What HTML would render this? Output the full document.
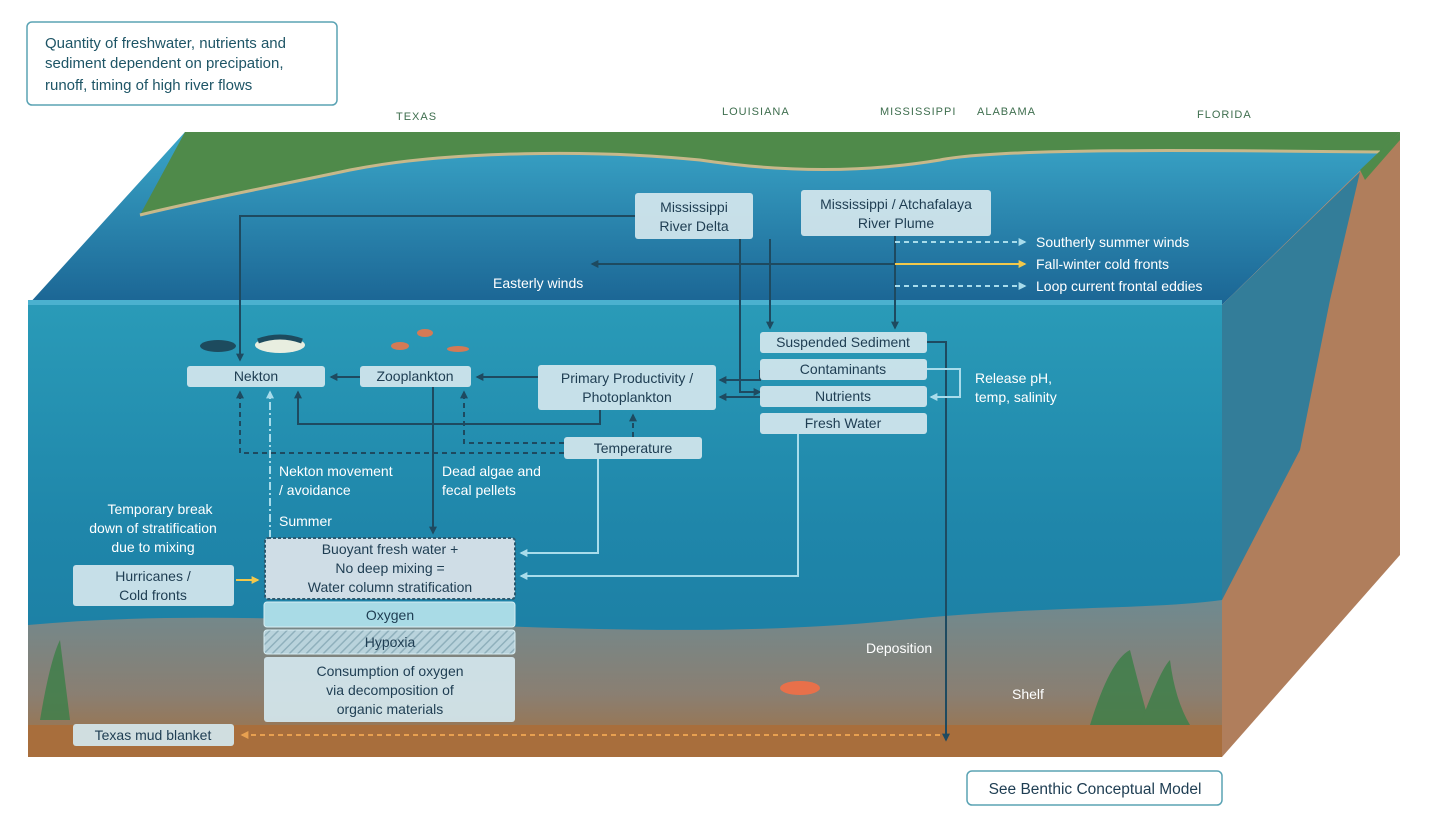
<!DOCTYPE html>
<html><head><meta charset="utf-8"><style>
body{margin:0;background:#fff;width:1432px;height:821px;overflow:hidden;font-family:"Liberation Sans",sans-serif}
svg text{font-family:"Liberation Sans",sans-serif}
</style></head><body>
<svg width="1432" height="821" viewBox="0 0 1432 821" xmlns="http://www.w3.org/2000/svg">
<defs>
<linearGradient id="wat" x1="0" y1="0" x2="0" y2="1">
<stop offset="0" stop-color="#2a9bb8"/><stop offset="0.5" stop-color="#1f86aa"/><stop offset="1" stop-color="#1a7aa0"/></linearGradient>
<linearGradient id="surf" x1="0" y1="0" x2="0" y2="1">
<stop offset="0" stop-color="#3aa6c8"/><stop offset="1" stop-color="#1b6594"/></linearGradient>
<linearGradient id="floor" x1="0" y1="0" x2="0" y2="1">
<stop offset="0" stop-color="#6f8a90"/><stop offset="0.6" stop-color="#8a7f72"/><stop offset="1" stop-color="#a2703f"/></linearGradient>
<pattern id="hatch" width="6" height="6" patternUnits="userSpaceOnUse" patternTransform="rotate(45)">
<rect width="6" height="6" fill="#b9d3dc"/><line x1="0" y1="0" x2="0" y2="6" stroke="#8fb0bc" stroke-width="3"/></pattern>
<marker id="a" viewBox="0 0 10 10" refX="8" refY="5" markerWidth="4" markerHeight="4" orient="auto"><path d="M0 0L10 5L0 10z" fill="#1e4a60"/></marker>
<marker id="al" viewBox="0 0 10 10" refX="8" refY="5" markerWidth="4" markerHeight="4" orient="auto"><path d="M0 0L10 5L0 10z" fill="#a8dceb"/></marker>
<marker id="ay" viewBox="0 0 10 10" refX="8" refY="5" markerWidth="4" markerHeight="4" orient="auto"><path d="M0 0L10 5L0 10z" fill="#f2c84b"/></marker>
<marker id="ao" viewBox="0 0 10 10" refX="8" refY="5" markerWidth="4" markerHeight="4" orient="auto"><path d="M0 0L10 5L0 10z" fill="#e8a050"/></marker>
</defs>
<polygon points="185,132 1400,132 1222,305 28,305" fill="url(#surf)"/>
<path d="M185,132 L1400,132 L1380,152 C1200,150 1000,148 940,160 C880,170 800,175 700,160 C600,150 450,150 350,170 C280,185 200,200 140,215 Z" fill="#4f8a4a"/>
<path d="M140,215 C200,200 280,185 350,170 C450,150 600,150 700,160 C800,175 880,170 940,160 C1000,148 1200,150 1380,152" fill="none" stroke="#c7b88a" stroke-width="3"/>
<polygon points="1222,305 1400,132 1400,555 1222,757" fill="#b07e5c"/>
<polygon points="1360,170 1400,132 1400,140 1365,180" fill="#4f8a4a"/>
<polygon points="1222,305 1360,172 1330,300 1300,450 1222,600" fill="#1d7ca3" opacity="0.85"/>
<rect x="28" y="300" width="1194" height="457" fill="url(#wat)"/>
<path d="M28,300 L1222,300 L1222,305 L28,305Z" fill="#4bb1cf"/>
<path d="M28,625 C300,600 600,650 900,620 C1050,605 1150,610 1222,600 L1222,757 L28,757Z" fill="url(#floor)"/>
<rect x="28" y="725" width="1194" height="32" fill="#a86e3c"/>
<rect x="27" y="22" width="310" height="83" rx="5" fill="#fff" stroke="#5aa3b4" stroke-width="1.5"/>
<text font-size="15" fill="#1e5566"><tspan x="45" y="48">Quantity of freshwater, nutrients and</tspan><tspan x="45" y="68">sediment dependent on precipation,</tspan><tspan x="45" y="90">runoff, timing of high river flows</tspan></text>
<g font-size="11" fill="#3e6e4e" letter-spacing="1"><text x="396" y="120">TEXAS</text><text x="722" y="115">LOUISIANA</text><text x="880" y="115">MISSISSIPPI</text><text x="977" y="115">ALABAMA</text><text x="1197" y="118">FLORIDA</text></g>
<g stroke="#1e4a60" stroke-width="2" fill="none">
<path d="M635,216 H240 V360" marker-end="url(#a)"/>
<path d="M740,239 V392 H760" marker-end="url(#a)"/>
<path d="M770,239 V328" marker-end="url(#a)"/>
<path d="M895,236 V328" marker-end="url(#a)"/>
<path d="M895,264 H592" marker-end="url(#a)"/>
<path d="M760,397 H720" marker-end="url(#a)"/>
<path d="M760,370 V380 H720" marker-end="url(#a)"/>
<path d="M538,377 H477" marker-end="url(#a)"/>
<path d="M360,377 H331" marker-end="url(#a)"/>
<path d="M600,410 V424 H298 V392" marker-end="url(#a)"/>
<path d="M433,387 V533" marker-end="url(#a)"/>
<path d="M927,342 H946 V740" marker-end="url(#a)"/>
</g>
<g stroke="#1e4a60" stroke-width="2" fill="none" stroke-dasharray="5,4">
<path d="M564,453 H240 V392" marker-end="url(#a)"/>
<path d="M564,443 H464 V392" marker-end="url(#a)"/>
<path d="M633,437 V415" marker-end="url(#a)"/>
</g>
<g stroke="#a8dceb" stroke-width="2" fill="none">
<path d="M895,242 H1025" stroke-dasharray="5,4" marker-end="url(#al)"/>
<path d="M895,286 H1025" stroke-dasharray="5,4" marker-end="url(#al)"/>
<path d="M927,369 H960 V397 H931" marker-end="url(#al)"/>
<path d="M598,459 V553 H521" marker-end="url(#al)"/>
<path d="M798,434 V576 H521" marker-end="url(#al)"/>
<path d="M270,538 V392" stroke-dasharray="8,3,2,3" marker-end="url(#al)"/>
</g>
<path d="M895,264 H1025" stroke="#f2c84b" stroke-width="2" marker-end="url(#ay)"/>
<path d="M236,580 H258" stroke="#f2c84b" stroke-width="2" marker-end="url(#ay)"/>
<path d="M940,735 H242" stroke="#e8a050" stroke-width="2" stroke-dasharray="5,4" marker-end="url(#ao)"/>
<g fill="#d3e6ed" fill-opacity="0.93">
<rect x="635" y="193" width="118" height="46" rx="3"/>
<rect x="801" y="190" width="190" height="46" rx="3"/>
<rect x="760" y="332" width="167" height="21" rx="3"/>
<rect x="760" y="359" width="167" height="21" rx="3"/>
<rect x="760" y="386" width="167" height="21" rx="3"/>
<rect x="760" y="413" width="167" height="21" rx="3"/>
<rect x="187" y="366" width="138" height="21" rx="3"/>
<rect x="360" y="366" width="111" height="21" rx="3"/>
<rect x="538" y="365" width="178" height="45" rx="3"/>
<rect x="564" y="437" width="138" height="22" rx="3"/>
<rect x="73" y="565" width="161" height="41" rx="3"/>
<rect x="73" y="724" width="161" height="22" rx="3"/>
<rect x="264" y="657" width="251" height="65" rx="3"/>
</g>
<rect x="265" y="538" width="250" height="61" rx="3" fill="#cfdde6" stroke="#2c5a70" stroke-width="2" stroke-dasharray="3,2"/>
<rect x="264" y="602" width="251" height="25" rx="3" fill="#a9dbe6" stroke="#d7eef3"/>
<rect x="264" y="630" width="251" height="24" rx="3" fill="url(#hatch)" stroke="#d7eef3"/>
<rect x="967" y="771" width="255" height="34" rx="5" fill="#fff" stroke="#5aa3b4" stroke-width="1.5"/>
<g font-size="14" fill="#1e3d52" text-anchor="middle">
<text x="694" y="212">Mississippi</text><text x="694" y="231">River Delta</text>
<text x="896" y="209">Mississippi / Atchafalaya</text><text x="896" y="228">River Plume</text>
<text x="843" y="347">Suspended Sediment</text>
<text x="843" y="374">Contaminants</text>
<text x="843" y="401">Nutrients</text>
<text x="843" y="428">Fresh Water</text>
<text x="256" y="381">Nekton</text>
<text x="415" y="381">Zooplankton</text>
<text x="627" y="383">Primary Productivity /</text><text x="627" y="402">Photoplankton</text>
<text x="633" y="453">Temperature</text>
<text x="153" y="581">Hurricanes /</text><text x="153" y="600">Cold fronts</text>
<text x="153" y="740">Texas mud blanket</text>
<text x="390" y="554">Buoyant fresh water +</text><text x="390" y="573">No deep mixing =</text><text x="390" y="592">Water column stratification</text>
<text x="390" y="620">Oxygen</text>
<text x="390" y="647">Hypoxia</text>
<text x="390" y="676">Consumption of oxygen</text><text x="390" y="695">via decomposition of</text><text x="390" y="714">organic materials</text>
<text x="1095" y="794" font-size="15.5">See Benthic Conceptual Model</text>
</g>
<g font-size="14" fill="#fff">
<text x="1036" y="247">Southerly summer winds</text>
<text x="1036" y="269">Fall-winter cold fronts</text>
<text x="1036" y="291">Loop current frontal eddies</text>
<text x="493" y="288">Easterly winds</text>
<text x="975" y="383">Release pH,</text><text x="975" y="402">temp, salinity</text>
<text x="279" y="476">Nekton movement</text><text x="279" y="495">/ avoidance</text>
<text x="279" y="526">Summer</text>
<text x="442" y="476">Dead algae and</text><text x="442" y="495">fecal pellets</text>
<text x="866" y="653">Deposition</text>
<text x="1012" y="699">Shelf</text>
<g text-anchor="middle"><text x="160" y="514">Temporary break</text><text x="153" y="533">down of stratification</text><text x="153" y="552">due to mixing</text></g>
</g>
<ellipse cx="218" cy="346" rx="18" ry="6" fill="#1d4b5e"/>
<ellipse cx="280" cy="345" rx="25" ry="8" fill="#e8eee0"/><path d="M258,341 Q280,333 302,341" stroke="#1d4b5e" stroke-width="5" fill="none"/>
<ellipse cx="800" cy="688" rx="20" ry="7" fill="#e8704a"/>
<g fill="#d47a55"><ellipse cx="400" cy="346" rx="9" ry="4"/><ellipse cx="425" cy="333" rx="8" ry="4"/><ellipse cx="458" cy="349" rx="11" ry="3"/></g>
<g fill="#3f7f4a" opacity="0.85"><path d="M40,720 Q50,660 60,640 Q65,680 70,720Z"/><path d="M1090,725 Q1110,660 1130,650 Q1140,690 1150,725Z"/><path d="M1140,725 Q1160,670 1170,660 Q1175,700 1190,725Z"/></g>
</svg>
</body></html>
